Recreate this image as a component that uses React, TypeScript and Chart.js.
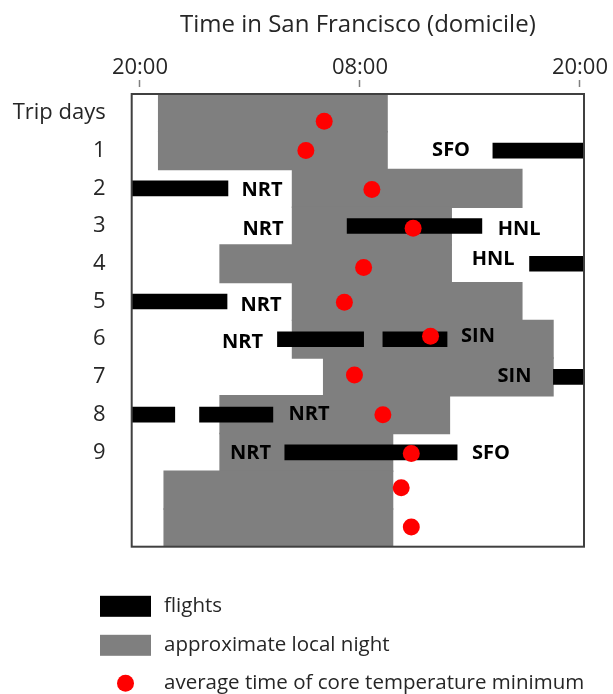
import React, { useEffect, useRef } from 'react';
import { Chart, registerables } from 'chart.js';

Chart.register(...registerables);

// ---- data ----
// hours are counted from 20:00 San Francisco time (0 = 20:00, 12 = 08:00, 24 = 20:00)
const hourTicks = [0, 12, 24];
const hourTickLabels = ['20:00', '08:00', '20:00'];
const rowLabels = ['Trip days', '1', '2', '3', '4', '5', '6', '7', '8', '9'];

// approximate local night, one band per row
const nightRows = [0, 1, 2, 3, 4, 5, 6, 7, 8, 9, 10, 11];
const nightStart = [1.0, 1.0, 8.3, 8.3, 4.35, 8.3, 8.3, 10.0, 4.35, 4.35, 1.3, 1.3];
const nightEnd = [13.5, 13.5, 20.85, 17.0, 17.0, 20.85, 22.55, 22.55, 16.9, 13.8, 13.8, 13.8];

// flights
const flightRows = [1, 2, 3, 4, 5, 6, 6, 7, 8, 8, 9];
const flightStart = [19.25, -1, 11.3, 21.25, -1, 7.5, 13.25, 22.55, -1, 3.25, 7.9];
const flightEnd = [25, 4.8, 18.65, 25, 4.75, 12.2, 16.75, 25, 1.9, 7.25, 17.3];

// average time of core temperature minimum
const tminHours = [10.05, 9.05, 12.65, 14.9, 12.2, 11.15, 15.85, 11.7, 13.25, 14.8, 14.25, 14.8];
const tminRows = [0.22, 1, 2.03, 3.06, 4.1, 5.02, 5.92, 6.95, 8.0, 9.03, 9.94, 10.98];

// airport labels
const airportCodes = ['SFO', 'NRT', 'NRT', 'HNL', 'HNL', 'NRT', 'NRT', 'SIN', 'SIN', 'NRT', 'NRT', 'SFO'];
const airportHours = [16.97, 6.66, 6.71, 20.68, 19.26, 6.6, 5.59, 18.44, 20.43, 9.22, 6.03, 19.15];
const airportRows = [1, 2.05, 3.08, 3.08, 3.88, 5.1, 6.08, 5.93, 6.98, 7.98, 9.03, 9.03];

const legendLabels = ['flights', 'approximate local night', 'average time of core temperature minimum'];

const FONT = '"Open Sans", sans-serif';
const TEXT = '#262626';
const FLIGHT = '#000000';
const NIGHT = '#7f7f7f';
const DOT = '#ff0000';

const framePlugin = {
  id: 'frame',
  afterDatasetsDraw(chart: any) {
    const { ctx, chartArea } = chart;
    const { left, top, right, bottom } = chartArea;
    ctx.save();
    ctx.strokeStyle = '#404040';
    ctx.lineWidth = 2;
    ctx.strokeRect(left, top, right - left, bottom - top);
    ctx.restore();
  },
};

const airportPlugin = {
  id: 'airports',
  afterDatasetsDraw(chart: any) {
    const { ctx, scales } = chart;
    const x = scales.x;
    const y = scales.y;
    ctx.save();
    ctx.font = `bold 20px ${FONT}`;
    ctx.fillStyle = '#000';
    ctx.textAlign = 'center';
    ctx.textBaseline = 'middle';
    airportCodes.forEach((t, i) => {
      ctx.fillText(t, x.getPixelForValue(airportHours[i]), y.getPixelForValue(airportRows[i]));
    });
    ctx.restore();
  },
};

const legendPlugin = {
  id: 'customLegend',
  afterDraw(chart: any) {
    const { ctx } = chart;
    const boxX = 100;
    const boxW = 51;
    const boxH = 21;
    const textX = 164;
    const ys = [606.3, 645.3, 683.3];
    ctx.save();
    ctx.fillStyle = FLIGHT;
    ctx.fillRect(boxX, ys[0] - boxH / 2, boxW, boxH);
    ctx.fillStyle = NIGHT;
    ctx.fillRect(boxX, ys[1] - boxH / 2, boxW, boxH);
    ctx.fillStyle = DOT;
    ctx.beginPath();
    ctx.arc(boxX + boxW / 2, ys[2], 8.5, 0, Math.PI * 2);
    ctx.fill();
    ctx.font = `20.5px ${FONT}`;
    ctx.fillStyle = TEXT;
    ctx.textAlign = 'left';
    ctx.textBaseline = 'middle';
    legendLabels.forEach((t, i) => ctx.fillText(t, textX, ys[i]));
    ctx.restore();
  },
};

export default function App() {
  const ref = useRef<HTMLCanvasElement | null>(null);

  useEffect(() => {
    if (!ref.current) return;
    const chart = new Chart(ref.current, {
      type: 'bar',
      data: {
        datasets: [
          {
            type: 'scatter',
            label: legendLabels[2],
            data: tminHours.map((h, i) => ({ x: h, y: tminRows[i] })),
            pointRadius: 8.5,
            backgroundColor: DOT,
            borderWidth: 0,
            order: 0,
          } as any,
          {
            type: 'bar',
            label: legendLabels[0],
            indexAxis: 'y',
            data: flightRows.map((r, i) => ({ x: [flightStart[i], flightEnd[i]], y: r })),
            backgroundColor: FLIGHT,
            barThickness: 15,
            grouped: false,
            clip: 0,
            order: 1,
          } as any,
          {
            type: 'bar',
            label: legendLabels[1],
            indexAxis: 'y',
            data: nightRows.map((r, i) => ({ x: [nightStart[i], nightEnd[i]], y: r })),
            backgroundColor: NIGHT,
            barThickness: 38.5,
            grouped: false,
            clip: 0,
            order: 2,
          } as any,
        ],
      },
      options: {
        indexAxis: 'y',
        responsive: false,
        animation: false,
        events: [],
        layout: { padding: { top: 0, left: 0, right: 29, bottom: 147.3 } },
        plugins: { legend: { display: false }, tooltip: { enabled: false }, title: { display: false } },
        scales: {
          x: {
            type: 'linear',
            position: 'top',
            min: -0.45,
            max: 24.22,
            offset: false,
            afterBuildTicks: (s: any) => {
              s.ticks = hourTicks.map((v) => ({ value: v }));
            },
            afterFit: (s: any) => {
              s.height = 94;
            },
            ticks: {
              callback: (_v: any, i: number) => hourTickLabels[i],
              font: { family: FONT, size: 22, lineHeight: 1.1 },
              color: TEXT,
              padding: 0,
              maxRotation: 0,
              autoSkip: false,
            },
            grid: {
              drawOnChartArea: false,
              drawTicks: true,
              tickLength: 14,
              tickColor: '#7f7f7f',
              tickWidth: 1.5,
              tickBorderDash: [7, 20],
            },
            border: { display: false },
            title: {
              display: true,
              text: 'Time in San Francisco (domicile)',
              font: { family: FONT, size: 24 },
              color: TEXT,
              padding: { top: 11, bottom: 0 },
            },
          },
          y: {
            type: 'linear',
            reverse: true,
            min: -0.5,
            max: 11.5,
            offset: false,
            afterBuildTicks: (s: any) => {
              s.ticks = rowLabels.map((_l, i) => ({ value: i }));
            },
            afterFit: (s: any) => {
              s.width = 131.7;
            },
            ticks: {
              callback: (_v: any, i: number) => rowLabels[i],
              font: { family: FONT, size: 22 },
              color: TEXT,
              padding: 26,
              autoSkip: false,
            },
            grid: { display: false, drawTicks: false },
            border: { display: false },
          },
        },
      } as any,
      plugins: [framePlugin, airportPlugin, legendPlugin],
    });
    return () => chart.destroy();
  }, []);

  return (
    <div style={{ position: 'fixed', left: 0, top: 0, width: 613, height: 694, background: '#fff' }}>
      <canvas ref={ref} width={613} height={694} style={{ width: 613, height: 694, display: 'block' }} />
    </div>
  );
}
